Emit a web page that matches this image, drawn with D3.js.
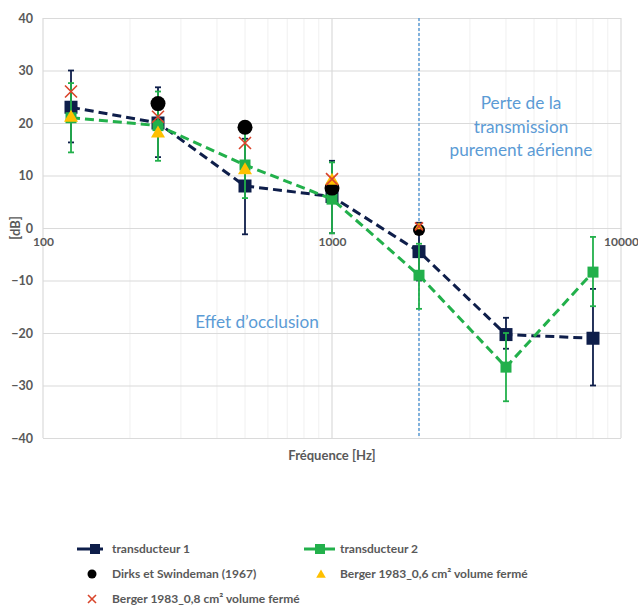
<!DOCTYPE html>
<html>
<head>
<meta charset="utf-8">
<script src="https://cdn.jsdelivr.net/npm/d3@7/dist/d3.min.js"></script>
<style>
  html, body { margin: 0; padding: 0; background: #fff; }
  svg { display: block; font-family: Lato, "Open Sans", sans-serif; }
</style>
</head>
<body>
<svg id="chart" width="638" height="606"></svg>
<script>
// Frequencies (Hz)
const freqs = [125, 250, 500, 1000, 2000, 4000, 8000];

// Transducer measurements (dB) with error-bar bounds
const t1Values = [23, 20, 8, 6, -4.5, -20.3, -21];
const t1Low    = [16.3, 13.5, -1.2, -1, -10, -23, -30];
const t1High   = [30, 26.8, 17, 12.8, 1, -17.1, -11.6];

const t2Values = [21, 19.5, 12, 5.5, -9, -26.5, -8.4];
const t2Low    = [14.4, 12.8, 5.7, -1, -15.4, -33, -14.9];
const t2High   = [27.6, 26, 18.5, 12.5, -3, -20, -1.7];

// Literature reference points
const dirksFreqs   = [250, 500, 1000, 2000];
const dirksValues  = [23.7, 19.2, 7.6, -0.4];
const berger06Freqs  = [125, 250, 500, 1000, 2000];
const berger06Values = [21, 18, 11, 9, 0.2];
const berger08Freqs  = [125, 250, 500, 1000, 2000];
const berger08Values = [26, 21.2, 16.2, 9.3, 0.3];

// Axis ticks
const yTicks = [-40, -30, -20, -10, 0, 10, 20, 30, 40];
const xTicks = [100, 1000, 10000];
const boundaryFreq = 2000;

const navy = "#0E1E4A", green = "#22B04B", orange = "#FFC000", red = "#D9452B", blue = "#5B9BD5";
const textGray = "#595959";

const svg = d3.select("#chart");
const x = d3.scaleLog().domain([100, 10000]).range([43, 621]);
const y = d3.scaleLinear().domain([-40, 40]).range([438, 18]);

// Vertical grid: minor then major decades
const minor = [];
[100, 1000].forEach(d => { for (let k = 2; k <= 9; k++) minor.push(d * k); });
svg.append("g").selectAll("line").data(minor).join("line")
  .attr("x1", d => x(d)).attr("x2", d => x(d))
  .attr("y1", y(40)).attr("y2", y(-40))
  .attr("stroke", "#F0F0F0").attr("stroke-width", 1);
svg.append("g").selectAll("line").data(xTicks).join("line")
  .attr("x1", d => x(d)).attr("x2", d => x(d))
  .attr("y1", y(40)).attr("y2", y(-40))
  .attr("stroke", "#DADADA").attr("stroke-width", 1.2);

// Horizontal grid + y labels
const yAxis = svg.append("g").attr("transform", `translate(${x(100)},0)`)
  .call(d3.axisLeft(y).tickValues(yTicks).tickSize(-(x(10000) - x(100))).tickPadding(10));
yAxis.select(".domain").remove();
yAxis.selectAll(".tick line").attr("stroke", "#DADADA").attr("stroke-width", 1.2);
yAxis.selectAll(".tick text").attr("fill", textGray).attr("font-size", 12.5)
  .attr("font-weight", "bold").attr("font-family", "Lato, sans-serif");

// X axis at 0 dB
const xAxis = svg.append("g").attr("transform", `translate(0,${y(0)})`)
  .call(d3.axisBottom(x).tickValues(xTicks).tickFormat(d3.format("d")).tickSize(0).tickPadding(9));
xAxis.select(".domain").attr("stroke", "#DADADA").attr("stroke-width", 1.2);
xAxis.selectAll(".tick text").attr("fill", textGray).attr("font-size", 12)
  .attr("font-weight", "bold").attr("font-family", "Lato, sans-serif");

// Axis titles
svg.append("text").attr("transform", `translate(20,${y(0)}) rotate(-90)`)
  .attr("text-anchor", "middle").attr("fill", textGray).attr("font-size", 13)
  .attr("font-weight", "bold").text("[dB]");
svg.append("text").attr("x", 332).attr("y", 460).attr("text-anchor", "middle")
  .attr("fill", textGray).attr("font-size", 13).attr("font-weight", "bold").text("Fréquence [Hz]");

// Boundary between occlusion effect and air transmission
svg.append("line").attr("x1", x(boundaryFreq)).attr("x2", x(boundaryFreq))
  .attr("y1", y(40)).attr("y2", y(-40))
  .attr("stroke", blue).attr("stroke-width", 1.5).attr("stroke-dasharray", "3,2");

// Region annotations
const note = svg.append("text").attr("text-anchor", "middle").attr("fill", blue)
  .attr("font-size", 17.2).attr("font-family", "Lato, sans-serif");
["Perte de la", "transmission", "purement aérienne"].forEach((s, i) =>
  note.append("tspan").attr("x", 521).attr("y", 109 + i * 23.5).text(s));
svg.append("text").attr("x", 257).attr("y", 328).attr("text-anchor", "middle")
  .attr("fill", blue).attr("font-size", 17.2).text("Effet d’occlusion");

// Series drawing
function drawSeries(vals, lo, hi, color, size) {
  const pts = freqs.map((f, i) => ({ f, v: vals[i], lo: lo[i], hi: hi[i] }));
  const g = svg.append("g");
  g.append("path").datum(pts)
    .attr("d", d3.line().x(d => x(d.f)).y(d => y(d.v)))
    .attr("fill", "none").attr("stroke", color).attr("stroke-width", 3)
    .attr("stroke-dasharray", "9,5");
  const eb = g.selectAll("g.eb").data(pts).join("g");
  eb.append("line").attr("x1", d => x(d.f)).attr("x2", d => x(d.f))
    .attr("y1", d => y(d.lo)).attr("y2", d => y(d.hi))
    .attr("stroke", color).attr("stroke-width", 1.8);
  ["lo", "hi"].forEach(k => eb.append("line")
    .attr("x1", d => x(d.f) - 3).attr("x2", d => x(d.f) + 3)
    .attr("y1", d => y(d[k])).attr("y2", d => y(d[k]))
    .attr("stroke", color).attr("stroke-width", 1.8));
  g.selectAll("rect").data(pts).join("rect")
    .attr("x", d => x(d.f) - size / 2).attr("y", d => y(d.v) - size / 2)
    .attr("width", size).attr("height", size).attr("fill", color);
}
drawSeries(t1Values, t1Low, t1High, navy, 13);
drawSeries(t2Values, t2Low, t2High, green, 11);

function drawX(g, cx, cy, r) {
  g.append("path").attr("d", `M${cx - r},${cy - r}L${cx + r},${cy + r}M${cx - r},${cy + r}L${cx + r},${cy - r}`)
    .attr("stroke", red).attr("stroke-width", 1.6).attr("fill", "none");
}

svg.append("g").selectAll("circle").data(dirksFreqs).join("circle")
  .attr("cx", d => x(d)).attr("cy", (d, i) => y(dirksValues[i]))
  .attr("r", (d, i) => i === 3 ? 6 : 7.5).attr("fill", "#000");
svg.append("g").selectAll("path").data(berger06Freqs).join("path")
  .attr("d", (d, i) => d3.symbol().type(d3.symbolTriangle).size(i === 4 ? 30 : 85)())
  .attr("transform", (d, i) => `translate(${x(d)},${y(berger06Values[i])})`)
  .attr("fill", orange);
const xg = svg.append("g");
berger08Freqs.forEach((f, i) => drawX(xg, x(f), y(berger08Values[i]), i === 4 ? 4 : 6));

// Legend
const leg = svg.append("g").attr("font-size", 12).attr("font-weight", "bold").attr("fill", textGray);
function legText(tx, ty, s) { leg.append("text").attr("x", tx).attr("y", ty + 4).text(s); }
function legLine(x0, x1, cx, ty, color) {
  leg.append("line").attr("x1", x0).attr("x2", x1).attr("y1", ty).attr("y2", ty)
    .attr("stroke", color).attr("stroke-width", 3);
  leg.append("rect").attr("x", cx - 5).attr("y", ty - 5).attr("width", 10).attr("height", 10).attr("fill", color);
}
legLine(77, 103, 95, 549, navy);
legText(112, 549, "transducteur 1");
legLine(304, 335, 320, 549, green);
legText(340, 549, "transducteur 2");
leg.append("circle").attr("cx", 92).attr("cy", 574).attr("r", 4.5).attr("fill", "#000");
legText(112, 574, "Dirks et Swindeman (1967)");
leg.append("path").attr("d", d3.symbol().type(d3.symbolTriangle).size(40)())
  .attr("transform", "translate(321,575)").attr("fill", orange);
legText(340, 574, "Berger 1983_0,6 cm² volume fermé");
drawX(leg, 92, 599, 4);
legText(112, 599, "Berger 1983_0,8 cm² volume fermé");
</script>
</body>
</html>
